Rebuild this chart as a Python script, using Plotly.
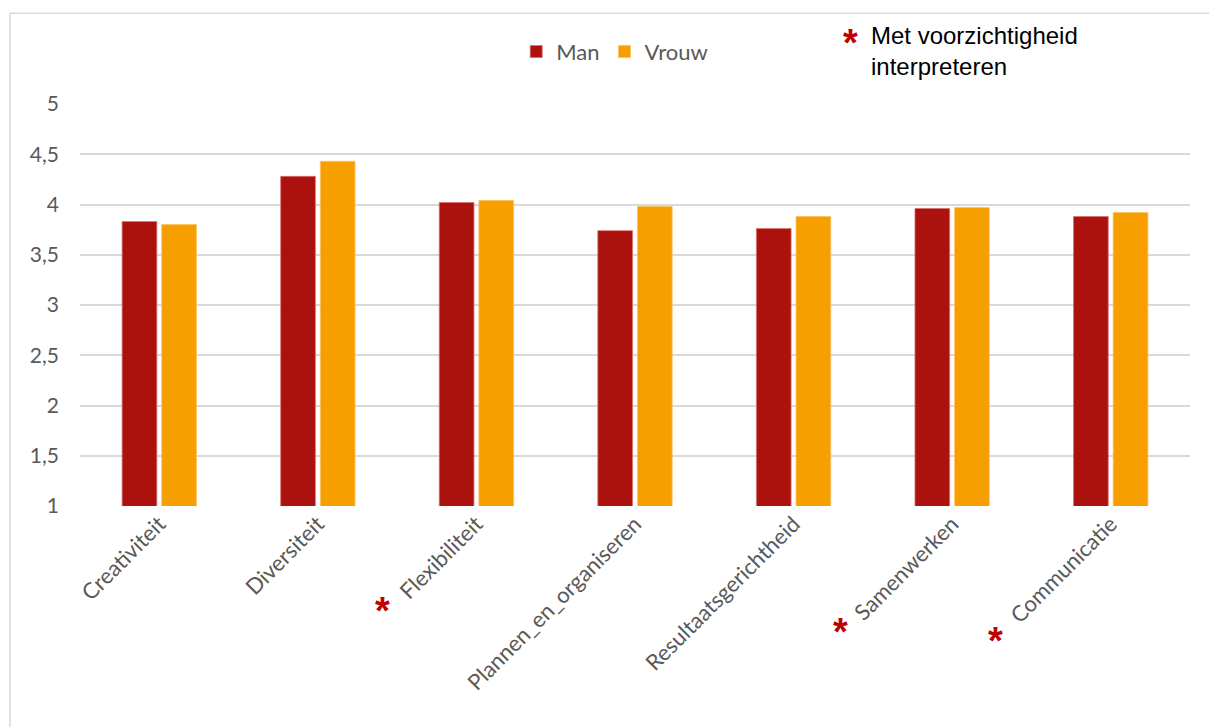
import plotly.graph_objects as go

categories = ["Creativiteit", "Diversiteit", "Flexibiliteit", "Plannen_en_organiseren",
              "Resultaatsgerichtheid", "Samenwerken", "Communicatie"]
man = [3.83, 4.28, 4.02, 3.74, 3.76, 3.96, 3.88]
vrouw = [3.80, 4.43, 4.04, 3.98, 3.88, 3.97, 3.92]
tick_vals = [1, 1.5, 2, 2.5, 3, 3.5, 4, 4.5, 5]
tick_text = ["1", "1,5", "2", "2,5", "3", "3,5", "4", "4,5", "5"]
flagged = ["Flexibiliteit", "Samenwerken", "Communicatie"]

MAN_C = "#AB110D"
VROUW_C = "#F79E00"
FONT = "Lato"
GREY = "#595959"
RED = "#C00000"

fig = go.Figure()
fig.add_trace(go.Bar(name="Man", x=categories, y=man, base=0, marker_color=MAN_C,
                     marker_line=dict(color="#D9706C", width=0.8)))
fig.add_trace(go.Bar(name="Vrouw", x=categories, y=vrouw, base=0, marker_color=VROUW_C,
                     marker_line=dict(color="#FBC060", width=0.8)))

annotations = []
# red asterisks in front of flagged category labels
ast_offsets = {"Flexibiliteit": (-94, -0.251), "Samenwerken": (-112, -0.303), "Communicatie": (-115, -0.325)}
ast_font = dict(family="Liberation Sans", size=38, color=RED)
for c in flagged:
    dx, yp = ast_offsets[c]
    annotations.append(dict(x=c, xref="x", y=yp, yref="paper", xshift=dx, yshift=-4,
                            text="<b>*</b>", showarrow=False, font=ast_font,
                            xanchor="center", yanchor="middle"))
annotations.append(dict(x=0.694, xref="paper", y=1.167, yref="paper", yshift=-6, text="<b>*</b>",
                        showarrow=False, font=ast_font, xanchor="center", yanchor="middle"))
annotations.append(dict(x=0.711, xref="paper", y=1.208, yref="paper",
                        text="Met voorzichtigheid<br>interpreteren", showarrow=False, align="left",
                        font=dict(family="Liberation Sans", size=24, color="#000000"),
                        xanchor="left", yanchor="top"))

shapes = [
    dict(type="line", xref="paper", yref="paper", x0=-0.063, x1=1.05, y0=1.226, y1=1.226,
         line=dict(color="#D9D9D9", width=1.5)),
    dict(type="line", xref="paper", yref="paper", x0=-0.063, x1=-0.063, y0=-0.6, y1=1.226,
         line=dict(color="#D9D9D9", width=1.5)),
]

fig.update_layout(
    width=1209, height=727,
    margin=dict(l=80, r=19, t=104, b=221),
    paper_bgcolor="white", plot_bgcolor="white",
    barmode="group", bargap=0.5, bargroupgap=0.125,
    font=dict(family=FONT, color=GREY, size=21),
    legend=dict(orientation="h", x=0.393, y=1.13, xanchor="left", yanchor="middle",
                font=dict(family=FONT, size=22, color=GREY), itemwidth=30,
                traceorder="normal"),
    annotations=annotations,
    shapes=shapes,
    xaxis=dict(tickangle=-45, tickfont=dict(family=FONT, size=22, color=GREY),
               showgrid=False, showline=False, ticks=""),
    yaxis=dict(range=[1, 5], tickvals=tick_vals, ticktext=tick_text,
               tickfont=dict(family=FONT, size=21, color=GREY),
               showgrid=True, gridcolor="#D9D9D9", gridwidth=1.5, zeroline=False,
               showline=False, ticks="", ticklen=0),
)
fig.update_yaxes(ticklabelstandoff=20)

fig.write_html("out.html")
